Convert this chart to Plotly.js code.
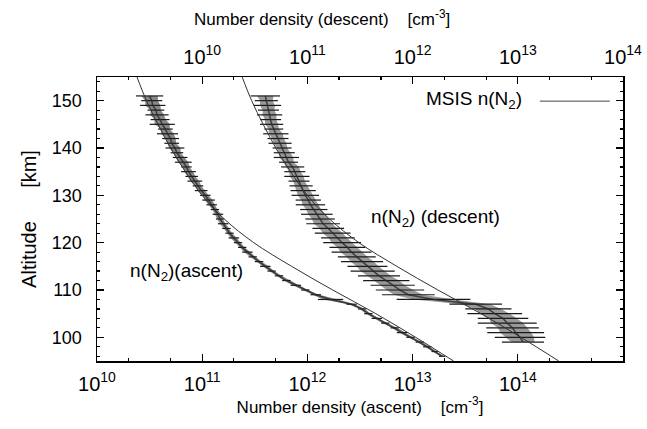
<!DOCTYPE html>
<html>
<head>
<meta charset="utf-8">
<script src="https://cdn.plot.ly/plotly-3.0.1.min.js"></script>
<style>html,body{margin:0;padding:0;background:#fff;}#chart{width:647px;height:429px;}</style>
</head>
<body>
<div id="chart"></div>
<script>
// ---- Data ----
// MSIS N2 model profile (same profile drawn against both axes)
var msisAltitude = [155, 150, 145, 140, 135, 130, 125, 120, 115, 110, 105, 100, 95];
var msisDensity  = [2.40e10, 2.95e10, 3.80e10, 5.01e10, 6.92e10, 1.00e11, 1.62e11, 3.09e11, 7.08e11, 1.74e12, 4.47e12, 1.07e13, 2.45e13];

// Ascent measurement (bottom axis), km and cm^-3
var ascentAltitude = [151,150,149,148,147,146,145,144,143,142,141,140,139,138,137,136,135,134,133,132,131,130,129,128,127,126,125,124,123,122,121,120,119,118,117,116,115,114,113,112,111,110,109,108,107,106,105,104,103,102,101,100,99,98,97,96];
var ascentDensity = [3.16e10,3.31e10,3.39e10,3.63e10,3.72e10,3.98e10,4.17e10,4.47e10,4.68e10,5.01e10,5.13e10,5.50e10,5.75e10,6.17e10,6.61e10,7.08e10,7.41e10,7.94e10,8.51e10,9.12e10,9.77e10,1.07e11,1.15e11,1.23e11,1.32e11,1.41e11,1.48e11,1.58e11,1.70e11,1.82e11,2.00e11,2.19e11,2.40e11,2.69e11,3.02e11,3.47e11,3.98e11,4.57e11,5.37e11,6.31e11,7.76e11,9.55e11,1.20e12,1.66e12,2.63e12,3.31e12,3.80e12,4.57e12,5.50e12,6.76e12,7.94e12,9.55e12,1.17e13,1.38e13,1.62e13,1.91e13];
// half-width of the scatter, in decades
var ascentSpread = [0.13,0.10,0.12,0.08,0.11,0.09,0.12,0.07,0.10,0.08,0.07,0.09,0.06,0.07,0.08,0.05,0.07,0.06,0.07,0.05,0.06,0.05,0.06,0.05,0.04,0.05,0.04,0.05,0.04,0.04,0.05,0.04,0.04,0.05,0.04,0.04,0.05,0.04,0.04,0.04,0.05,0.04,0.05,0.12,0.05,0.04,0.04,0.05,0.04,0.04,0.05,0.04,0.04,0.04,0.03,0.03];

// Descent measurement (top axis)
var descentAltitude = [151,150,149,148,147,146,145,144,143,142,141,140,139,138,137,136,135,134,133,132,131,130,129,128,127,126,125,124,123,122,121,120,119,118,117,116,115,114,113,112,111,110,109,108,107,106,105,104,103,102,101,100,99];
var descentDensity = [3.98e10,4.07e10,4.17e10,4.27e10,4.37e10,4.47e10,4.57e10,4.79e10,5.01e10,5.25e10,5.50e10,5.75e10,6.03e10,6.31e10,6.61e10,7.24e10,7.59e10,7.94e10,8.32e10,8.71e10,9.12e10,9.55e10,1.02e11,1.07e11,1.15e11,1.23e11,1.32e11,1.41e11,1.58e11,1.74e11,1.95e11,2.14e11,2.40e11,2.63e11,2.95e11,3.31e11,3.72e11,4.17e11,4.79e11,5.62e11,6.46e11,7.59e11,9.12e11,1.58e12,3.98e12,5.25e12,6.03e12,7.24e12,7.94e12,8.91e12,9.55e12,1.05e13,1.12e13];
var descentSpread = [0.14,0.11,0.13,0.10,0.12,0.10,0.11,0.09,0.12,0.10,0.11,0.09,0.10,0.12,0.09,0.11,0.10,0.12,0.10,0.11,0.12,0.13,0.12,0.14,0.13,0.15,0.14,0.16,0.15,0.17,0.16,0.18,0.17,0.19,0.18,0.20,0.19,0.21,0.20,0.22,0.21,0.23,0.25,0.35,0.25,0.22,0.26,0.24,0.28,0.25,0.27,0.24,0.20];

// Tick labels
var tickValues = [1e10, 1e11, 1e12, 1e13, 1e14];
var tickLabels = ['10<sup>10</sup>', '10<sup>11</sup>', '10<sup>12</sup>', '10<sup>13</sup>', '10<sup>14</sup>'];
var altTicks = [100, 110, 120, 130, 140, 150];

// ---- helpers building library inputs from the data ----
function plusErr(vals, spr) { return vals.map(function (v, i) { return v * (Math.pow(10, spr[i]) - 1); }); }
function minusErr(vals, spr) { return vals.map(function (v, i) { return v * (1 - Math.pow(10, -spr[i])); }); }
// closed polygon of the inner (denser) part of the scatter band
function bandPolygon(vals, spr, alts, frac) {
  var xs = [], ys = [];
  vals.forEach(function (v, i) { xs.push(v * Math.pow(10, -spr[i] * frac)); ys.push(alts[i]); });
  for (var i = vals.length - 1; i >= 0; i--) { xs.push(vals[i] * Math.pow(10, spr[i] * frac)); ys.push(alts[i]); }
  return {x: xs, y: ys};
}

var FONT = 'Liberation Sans, Arial, sans-serif';
var ascBand = bandPolygon(ascentDensity, ascentSpread, ascentAltitude, 0.6);
var desBand = bandPolygon(descentDensity, descentSpread, descentAltitude, 0.55);

var traces = [
  {x: ascBand.x, y: ascBand.y, xaxis: 'x', yaxis: 'y', type: 'scatter', mode: 'lines',
   fill: 'toself', fillcolor: 'rgba(95,95,95,0.75)', line: {width: 0}, showlegend: false, hoverinfo: 'skip'},
  {x: desBand.x, y: desBand.y, xaxis: 'x2', yaxis: 'y', type: 'scatter', mode: 'lines',
   fill: 'toself', fillcolor: 'rgba(110,110,110,0.7)', line: {width: 0}, showlegend: false, hoverinfo: 'skip'},
  {
    x: ascentDensity, y: ascentAltitude, xaxis: 'x', yaxis: 'y',
    type: 'scatter', mode: 'lines',
    line: {color: 'rgba(40,40,40,0.8)', width: 1.5},
    error_x: {type: 'data', symmetric: false, array: plusErr(ascentDensity, ascentSpread),
              arrayminus: minusErr(ascentDensity, ascentSpread), color: '#1a1a1a', thickness: 1.2, width: 0},
    showlegend: false, hoverinfo: 'skip'
  },
  {
    x: descentDensity, y: descentAltitude, xaxis: 'x2', yaxis: 'y',
    type: 'scatter', mode: 'lines',
    line: {color: 'rgba(40,40,40,0.8)', width: 1.5},
    error_x: {type: 'data', symmetric: false, array: plusErr(descentDensity, descentSpread),
              arrayminus: minusErr(descentDensity, descentSpread), color: '#1a1a1a', thickness: 1.2, width: 0},
    showlegend: false, hoverinfo: 'skip'
  },
  {
    x: msisDensity, y: msisAltitude, xaxis: 'x', yaxis: 'y',
    type: 'scatter', mode: 'lines', line: {color: '#333', width: 1, shape: 'spline'},
    showlegend: false, hoverinfo: 'skip'
  },
  {
    x: msisDensity, y: msisAltitude, xaxis: 'x2', yaxis: 'y',
    type: 'scatter', mode: 'lines', line: {color: '#333', width: 1, shape: 'spline'},
    showlegend: false, hoverinfo: 'skip'
  }
];

var axisCommon = {
  showgrid: false, zeroline: false, showline: true, linecolor: '#000', linewidth: 1.5,
  ticks: 'inside', ticklen: 7, tickwidth: 1.2, tickcolor: '#000',
  tickfont: {family: FONT, size: 20, color: '#000'}
};

var layout = {
  width: 647, height: 429,
  margin: {l: 97, r: 24, t: 77, b: 68},
  paper_bgcolor: '#fff', plot_bgcolor: '#fff',
  showlegend: false,
  font: {family: FONT, color: '#000'},
  xaxis: Object.assign({}, axisCommon, {
    type: 'log', range: [10, 15], tickmode: 'array', tickvals: tickValues, ticktext: tickLabels,
    mirror: false, ticklabelstandoff: 4,
    minor: {ticks: 'inside', ticklen: 3, tickcolor: '#000', showgrid: false},
    title: {text: 'Number density (ascent)\u00a0\u00a0\u00a0 [cm<sup>-3</sup>]', font: {family: FONT, size: 17, color: '#000'}, standoff: 6}
  }),
  xaxis2: Object.assign({}, axisCommon, {
    type: 'log', range: [9, 14], overlaying: 'x', side: 'top', anchor: 'y',
    tickmode: 'array', tickvals: tickValues, ticktext: tickLabels, ticklabelstandoff: 4,
    minor: {ticks: 'inside', ticklen: 3, tickcolor: '#000', showgrid: false}
  }),
  yaxis: Object.assign({}, axisCommon, {
    range: [95, 155], tickmode: 'array', tickvals: altTicks, mirror: 'ticks',
    ticklabelstandoff: 10, tickfont: {family: FONT, size: 18, color: '#000'},
    minor: {dtick: 2, ticks: 'inside', ticklen: 3, tickcolor: '#000'},
    title: {text: 'Altitude\u00a0\u00a0\u00a0\u00a0\u00a0 [km]', font: {family: FONT, size: 20, color: '#000'}, standoff: 10}
  }),
  annotations: [
    {xref: 'paper', yref: 'paper', x: 0.428, y: 1.208, xanchor: 'center', yanchor: 'middle',
     text: 'Number density (descent)\u00a0\u00a0\u00a0 [cm<sup>-3</sup>]', showarrow: false,
     font: {family: FONT, size: 17, color: '#000'}},
    {xref: 'paper', yref: 'paper', x: 0.717, y: 0.919, xanchor: 'center', yanchor: 'middle',
     text: 'MSIS n(N<sub>2</sub>)', showarrow: false, font: {family: FONT, size: 19, color: '#000'}},
    {xref: 'paper', yref: 'paper', x: 0.643, y: 0.504, xanchor: 'center', yanchor: 'middle',
     text: 'n(N<sub>2</sub>) (descent)', showarrow: false, font: {family: FONT, size: 19, color: '#000'}},
    {xref: 'paper', yref: 'paper', x: 0.171, y: 0.313, xanchor: 'center', yanchor: 'middle',
     text: 'n(N<sub>2</sub>)(ascent)', showarrow: false, font: {family: FONT, size: 19, color: '#000'}}
  ],
  shapes: [
    {type: 'line', xref: 'paper', yref: 'paper', x0: 0.842, x1: 0.975, y0: 0.915, y1: 0.915,
     line: {color: '#444', width: 1}}
  ]
};

Plotly.newPlot('chart', traces, layout, {staticPlot: true, displayModeBar: false});
</script>
</body>
</html>
